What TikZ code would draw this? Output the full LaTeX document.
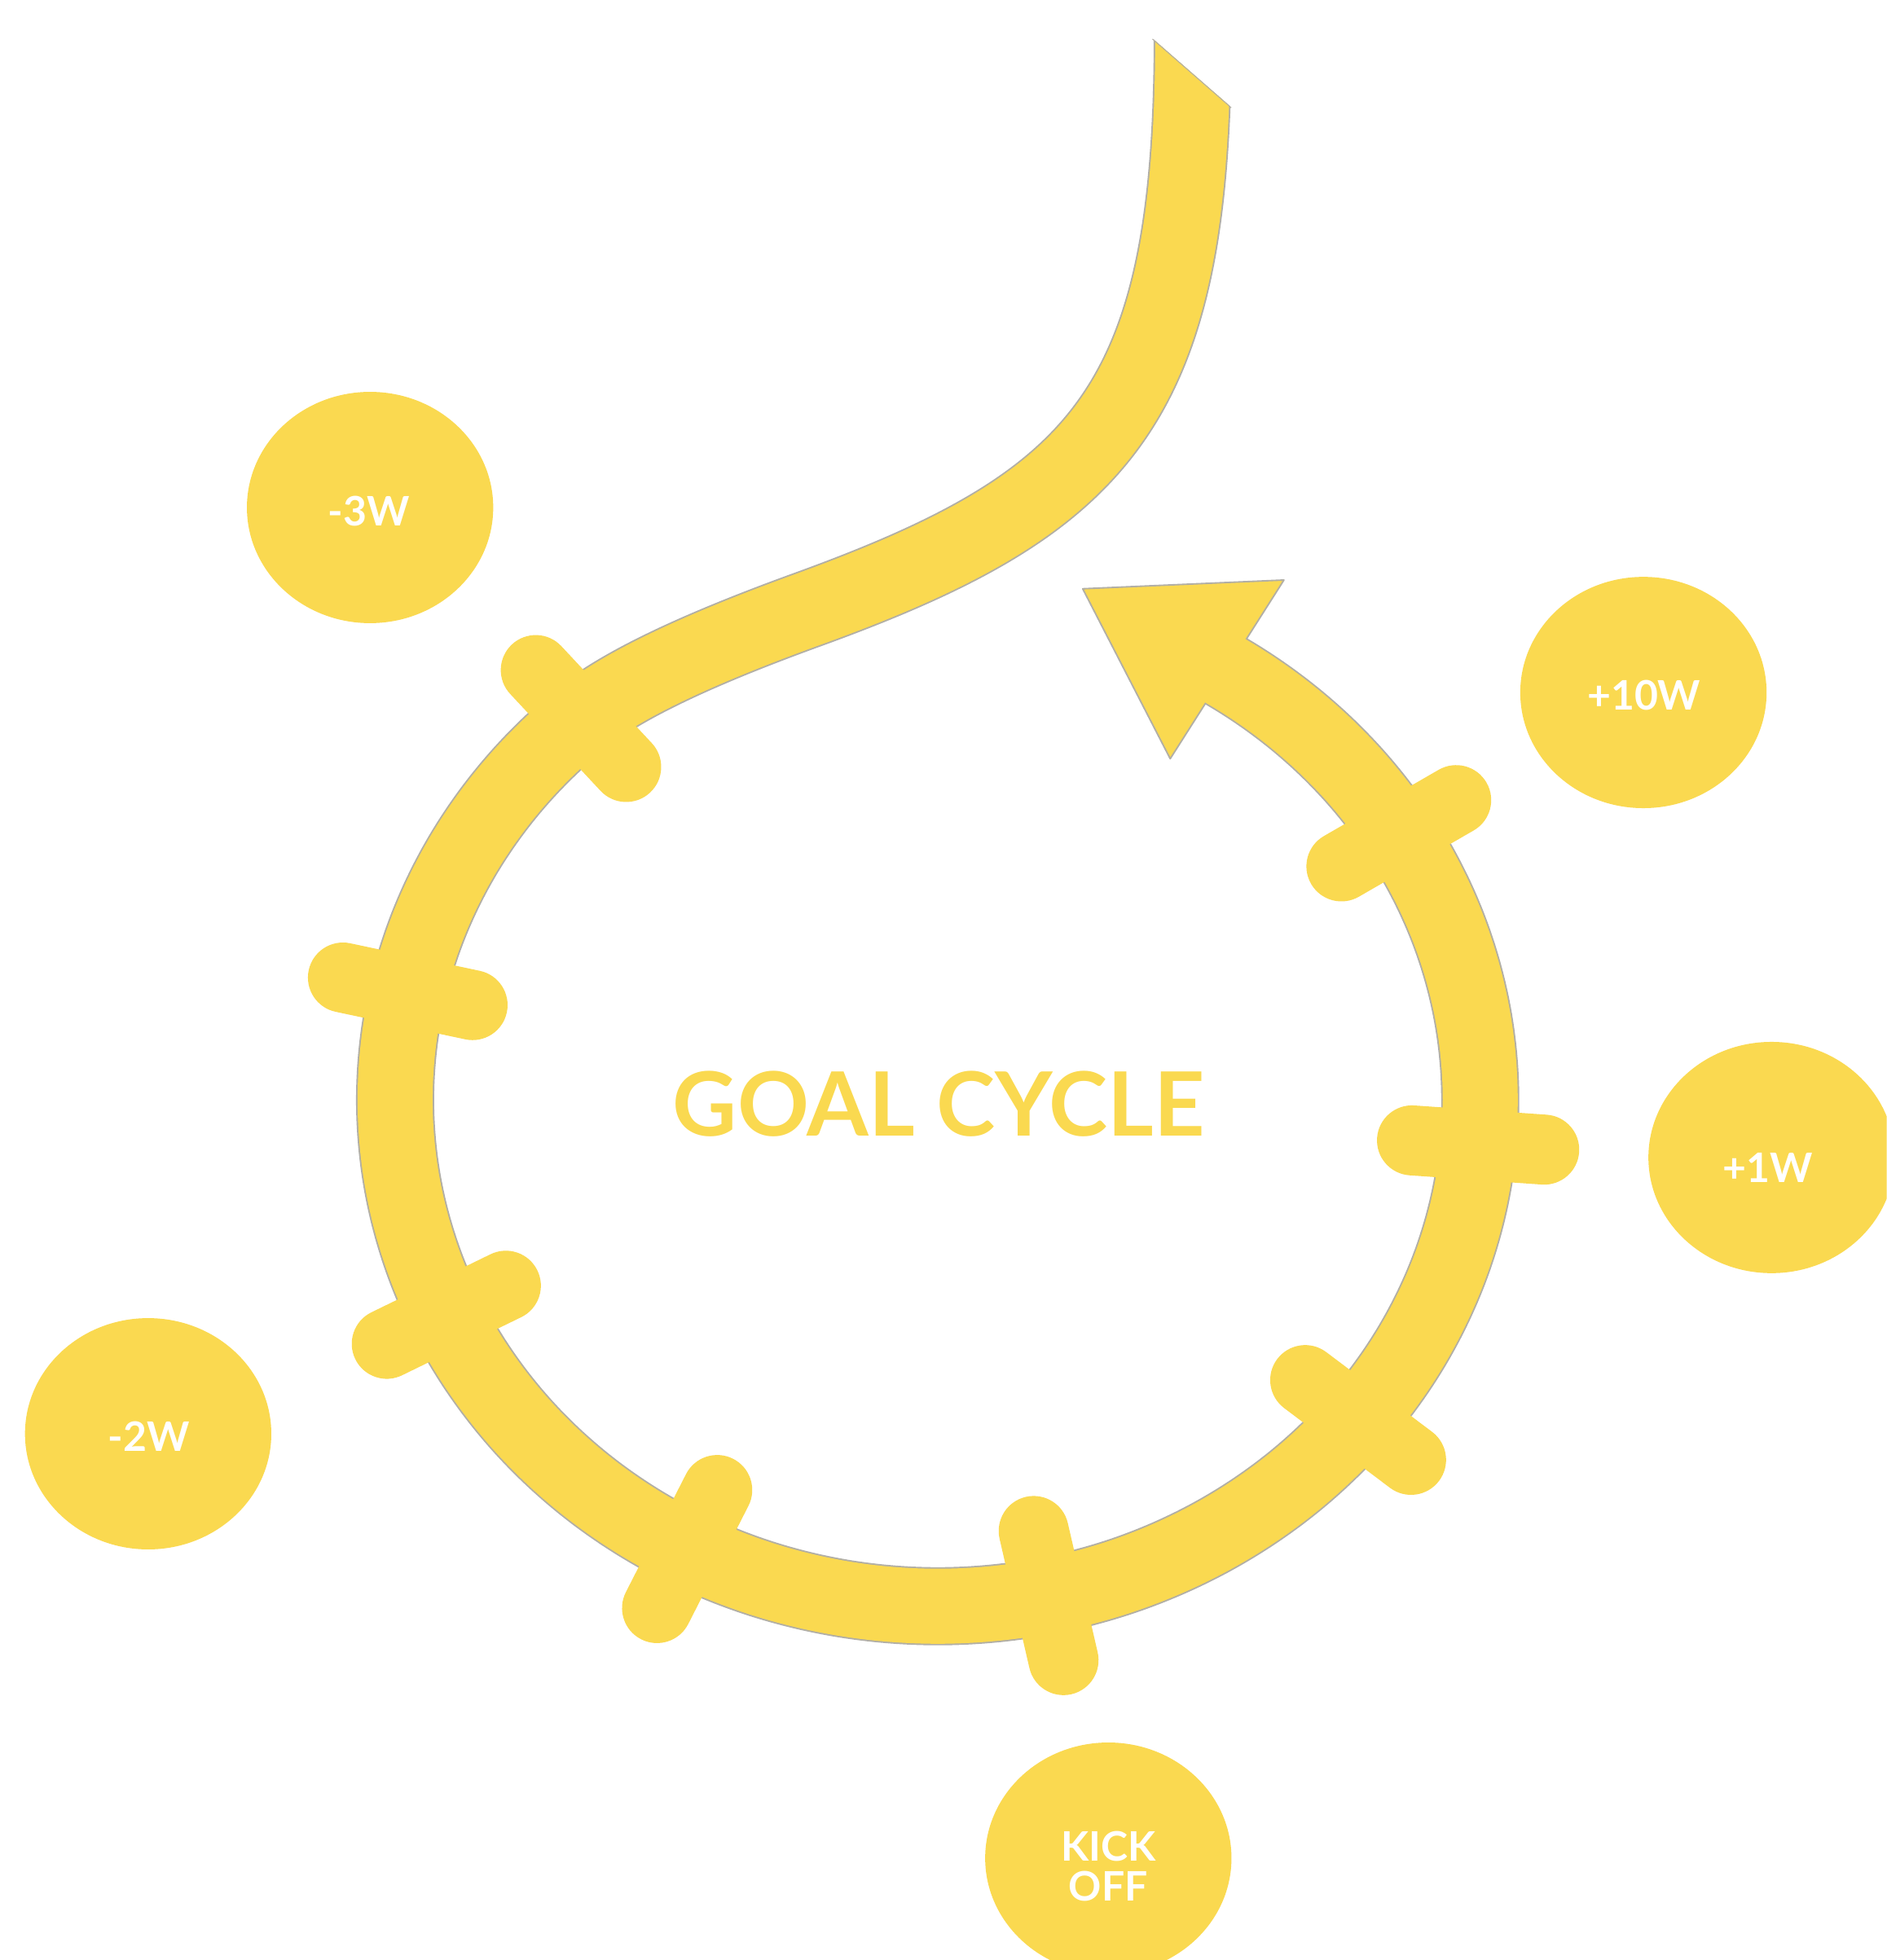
\documentclass[tikz,border=0pt]{standalone}
\usepackage{fontspec}
\setmainfont{Lato}
\usetikzlibrary{shapes.geometric,calc}
\definecolor{sun}{RGB}{250,217,80}
\definecolor{rim}{RGB}{178,175,165}

\begin{document}
\begin{tikzpicture}[x=1pt,y=-1pt,
  bandrim/.style={line width=62.5, draw=rim},
  band/.style={line width=60, draw=sun},
  tickbar/.style={line width=56, line cap=round, draw=sun},
  badge/.style={ellipse, fill=sun, minimum width=197, minimum height=185, inner sep=0},
  badgetext/.style={text=white, font=\bfseries\fontsize{32.5}{31.5}\selectfont, align=center, inner sep=0},
  title/.style={text=sun, font=\bfseries\fontsize{71}{84}\selectfont, inner sep=0}]

\useasboundingbox (0,0) rectangle (1509,1568);
\clip (0,0) rectangle (1509,1568);
\fill[white] (0,0) rectangle (1509,1568);

% loop: ellipse centred at (750,880), radii 434 x 405, parameter t in degrees
\newcommand\loopx[1]{750+434*cos(#1)}
\newcommand\loopy[1]{880-405*sin(#1)}
\coordinate (join) at ({\loopx{131}},{\loopy{131}});

% centre line of the S-shaped tail and of the loop
\def\tailpath{(954,15) .. controls (956,323) and (885,401) .. (645,488)
  .. controls (579,512) and (504.1,542.8) .. (join)}
\def\looppath{plot[domain=131:420, samples=160, smooth, variable=\t]
  ({\loopx{\t}},{\loopy{\t}})}

% tail, cut off obliquely at its upper end
\begin{scope}
  \clip (850,-32) -- (1100,186.4) -- (1600,186.4) -- (1600,1700) -- (-100,1700) -- (-100,-32) -- cycle;
  \draw[bandrim] \tailpath;
  \draw[band] \tailpath;
  \draw[rim, line width=1.2] (922,31) -- (985,86);
\end{scope}
\draw[bandrim] \looppath;

% arrow head
\coordinate (tip) at (866,471);
\coordinate (barbA) at (1027,464);
\coordinate (barbB) at (936,607);
\filldraw[fill=sun, draw=rim, line width=1.2, line join=round] (tip) -- (barbA) -- (barbB) -- cycle;

\draw[band] \looppath;

% cross bars on the loop: #1 name, #2 parameter on the loop, #3 bar direction
\newcommand\crossbar[3]{%
  \coordinate (#1) at ({\loopx{#2}},{\loopy{#2}});
  \draw[tickbar] ($(#1)+(#3:53)$) -- ($(#1)+(#3+180:53)$);}
\crossbar{t1}{131.1}{47}
\crossbar{t2}{167.6}{12}
\crossbar{t3}{205.1}{-26}
\crossbar{t4}{242.5}{-63}
\crossbar{t5}{281.8}{77}
\crossbar{t6}{320.8}{37}
\crossbar{t7}{354.9}{4}
\crossbar{t8}{31.8}{-30}

% milestone badges
\node[badge] (m3) at (296,406) {};
\node[badge] (p10) at (1314.5,554) {};
\node[badge] (p1) at (1417,926) {};
\node[badge] (m2) at (118.5,1147) {};
\node[badge] (kick) at (886.5,1486.5) {};

\node[badgetext] (m3t) at (295,409) {-3W};
\node[badgetext] (p10t) at (1315,556) {+10W};
\node[badgetext] (p1t) at (1414,934) {+1W};
\node[badgetext] (m2t) at (119,1149) {-2W};
\node[badgetext] (kickt) at (886.5,1493) {KICK\\OFF};

\node[title] (goal) at (751,883) {GOAL CYCLE};
\end{tikzpicture}
\end{document}
